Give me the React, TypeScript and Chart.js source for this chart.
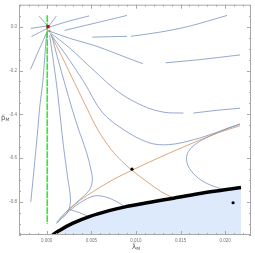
import { useEffect, useRef } from "react";
import { Chart, registerables } from "chart.js";
Chart.register(...registerables);

type P = [number, number];

const xTicks = [0, 0.005, 0.01, 0.015, 0.02];
const xTickLabels = ["0.000", "0.005", "0.010", "0.015", "0.020"];
const yTicks = [0, -0.2, -0.4, -0.6, -0.8];
const yTickLabels = ["0.0", "-0.2", "-0.4", "-0.6", "-0.8"];

// short streamlines near the origin
const t1: P[] = [[-0.00178, -0.008], [0, 0.003]];
const t2: P[] = [[-0.0017, -0.045], [0.00008, -0.008]];
const t3: P[] = [[-0.00181, -0.195], [-0.0008, -0.1], [0.00014, -0.015]];
const t4: P[] = [[-0.00086, 0.048], [0.00014, 0.003]];
const t5: P[] = [[0.00108, 0.048], [0.00026, 0.003]];

// upper fan
const u1: P[] = [[0.00022, -0.003], [0.00256, 0.026], [0.00478, 0.049]];
const u2: P[] = [[0.002, -0.017], [0.00533, 0.015], [0.009, 0.051]];
const u3a: P[] = [[0.00511, -0.048], [0.009, -0.044]];
const u3b: P[] = [[0.00944, -0.044], [0.01256, -0.026], [0.01589, 0.001], [0.02022, 0.051]];
const u4a: P[] = [[0.00033, -0.021], [0.00256, -0.053], [0.00556, -0.089], [0.009, -0.142], [0.01078, -0.169]];
const u4b: P[] = [[0.01333, -0.165], [0.017, -0.151], [0.02167, -0.129]];
const u5a: P[] = [[0.00033, -0.026], [0.00256, -0.097], [0.00533, -0.201], [0.00811, -0.3], [0.01089, -0.363], [0.01311, -0.39], [0.01533, -0.394]];
const u5b: P[] = [[0.01644, -0.394], [0.01922, -0.381], [0.02167, -0.372]];
const u6: P[] = [[0.00044, -0.035], [0.002, -0.12], [0.00422, -0.255], [0.00622, -0.39], [0.00867, -0.471], [0.01144, -0.529], [0.01367, -0.538], [0.01644, -0.516], [0.01922, -0.48], [0.02167, -0.444]];

// lower-left streamlines
const l1: P[] = [[0, -0.03], [-0.00022, -0.142], [-0.00044, -0.255], [-0.00078, -0.367], [-0.001, -0.471], [-0.00133, -0.614], [-0.00178, -0.799]];
const l2: P[] = [[0.00033, -0.039], [0.00078, -0.165], [0.00122, -0.3], [0.00156, -0.426], [0.00189, -0.547], [0.00233, -0.682], [0.00267, -0.794], [0.00233, -0.848], [0.00167, -0.875], [0.00111, -0.897]];
const l3: P[] = [[0.00056, -0.039], [0.00122, -0.142], [0.002, -0.255], [0.00289, -0.381], [0.00367, -0.48], [0.00444, -0.569], [0.005, -0.659], [0.00511, -0.704], [0.00478, -0.745], [0.00367, -0.79], [0.00256, -0.83], [0.00167, -0.866], [0.00111, -0.893]];
const c1: P[] = [[0.00144, -0.88], [0.00256, -0.839], [0.00389, -0.799], [0.00533, -0.772], [0.00656, -0.776], [0.00767, -0.794], [0.00878, -0.821]];
const c2: P[] = [[0.00256, -0.834], [0.00367, -0.848], [0.00478, -0.868]];
const cRight: P[] = [[0.02167, -0.444], [0.02011, -0.466], [0.01833, -0.498], [0.01678, -0.533], [0.01589, -0.569], [0.01567, -0.605], [0.016, -0.646], [0.017, -0.691], [0.01833, -0.722], [0.01978, -0.742]];

// separatrices (orange)
const orangeA: P[] = [[0.00044, -0.035], [0.00167, -0.133], [0.00311, -0.255], [0.00456, -0.376], [0.00567, -0.466], [0.00722, -0.56], [0.00844, -0.614], [0.00956, -0.655], [0.01144, -0.713], [0.01289, -0.754], [0.01422, -0.781]];
const orangeB: P[] = [[0.00211, -0.848], [0.00367, -0.794], [0.00533, -0.749], [0.00756, -0.695], [0.00956, -0.655], [0.01144, -0.619], [0.01367, -0.578], [0.017, -0.52], [0.01922, -0.484], [0.02167, -0.452]];

// vertical line (green)
const green: P[] = [[0.00006, 0.052], [0.00006, -0.9]];

// boundary (thick black)
const boundary: P[] = [[0.00044, -0.974], [0.00067, -0.951], [0.00144, -0.929], [0.00289, -0.897], [0.00478, -0.866], [0.007, -0.839], [0.00867, -0.823], [0.01144, -0.802], [0.01422, -0.782], [0.017, -0.762], [0.01978, -0.745], [0.02178, -0.733]];

// points
const redPoint: P[] = [[0.00015, 0.0]];
const grayPoint: P[] = [[0.0003, -0.02]];
const blackPoints: P[] = [[0.00956, -0.65], [0.02089, -0.803]];

const BLUE = "rgb(122,146,192)";
const ORANGE = "rgb(210,145,92)";

const toXY = (pts: P[]) => pts.map(([x, y]) => ({ x, y }));

const framePlugin = {
  id: "frameTicks",
  afterDatasetsDraw(chart: any) {
    const { ctx, chartArea: a, scales } = chart;
    const xs = scales.x;
    const ys = scales.y;
    ctx.save();
    ctx.strokeStyle = "#a8a8a8";
    ctx.lineWidth = 1;
    ctx.strokeRect(a.left + 0.5, a.top + 0.5, a.right - a.left - 1, a.bottom - a.top - 1);
    ctx.beginPath();
    for (let i = -3; i <= 22; i++) {
      const v = i / 1000;
      const px = Math.round(xs.getPixelForValue(v)) + 0.5;
      const len = i % 5 === 0 ? 4 : 2;
      ctx.moveTo(px, a.bottom);
      ctx.lineTo(px, a.bottom - len);
      ctx.moveTo(px, a.top);
      ctx.lineTo(px, a.top + len);
    }
    for (let i = -19; i <= 2; i++) {
      const v = i * 0.05;
      const py = Math.round(ys.getPixelForValue(v)) + 0.5;
      const len = i % 4 === 0 ? 4 : 2;
      ctx.moveTo(a.left, py);
      ctx.lineTo(a.left + len, py);
      ctx.moveTo(a.right, py);
      ctx.lineTo(a.right - len, py);
    }
    ctx.stroke();
    // axis titles
    ctx.fillStyle = "#555";
    ctx.textBaseline = "alphabetic";
    ctx.font = '7px "DejaVu Sans"';
    ctx.fillText("p\u0304", 1, 120);
    const pw = ctx.measureText("p").width;
    ctx.font = '4.5px "DejaVu Sans"';
    ctx.fillText("M", 1 + pw, 121);
    ctx.font = '7px "DejaVu Sans"';
    ctx.fillText("\u03bb\u0304", 132, 249);
    const lw = ctx.measureText("\u03bb").width;
    ctx.font = '4.5px "DejaVu Sans"';
    ctx.fillText("M", 132 + lw, 250);
    ctx.restore();
  },
};

export default function App() {
  const ref = useRef<HTMLCanvasElement | null>(null);
  useEffect(() => {
    if (!ref.current) return;
    const line = (pts: P[], color: string, width: number) => ({
      data: toXY(pts),
      showLine: true,
      borderColor: color,
      borderWidth: width,
      pointRadius: 0,
      tension: 0.35,
      fill: false,
    });
    const blues = [t1, t2, t3, t4, t5, u1, u2, u3a, u3b, u4a, u4b, u5a, u5b, u6, l1, l2, l3, c1, c2, cRight];
    const datasets: any[] = [
      { data: toXY(redPoint), pointStyle: "rect", pointRadius: 2.3, backgroundColor: "#e00000", borderWidth: 0, showLine: false },
      { data: toXY(blackPoints), pointRadius: 1.6, backgroundColor: "#000", borderWidth: 0, showLine: false },
      { data: toXY(grayPoint), pointStyle: "rect", pointRadius: 1.4, backgroundColor: "rgb(120,150,130)", borderWidth: 0, showLine: false },
      {
        data: toXY(boundary),
        showLine: true,
        borderColor: "#000",
        borderWidth: 3.5,
        pointRadius: 0,
        tension: 0.3,
        fill: "start",
        backgroundColor: "rgb(220,234,251)",
      },
      { ...line(green, "rgb(20,235,20)", 1.4), borderDash: [7, 1], tension: 0 },
      line(orangeA, ORANGE, 0.8),
      line(orangeB, ORANGE, 0.8),
      ...blues.map((b) => line(b, BLUE, 0.8)),
    ];
    const chart = new Chart(ref.current, {
      type: "scatter",
      data: { datasets },
      options: {
        animation: false,
        responsive: false,
        devicePixelRatio: 1,
        layout: { padding: { top: 1, right: 2, left: 0, bottom: 0 } },
        plugins: { legend: { display: false }, tooltip: { enabled: false } },
        scales: {
          x: {
            type: "linear",
            min: -0.0031,
            max: 0.0229,
            grid: { display: false, drawTicks: false },
            border: { display: false },
            afterFit: (s: any) => { s.height = 18; },
            afterBuildTicks: (s: any) => { s.ticks = xTicks.map((v) => ({ value: v })); },
            ticks: {
              padding: 3,
              color: "#777",
              font: { size: 4.5, family: '"Liberation Sans"' },
              maxRotation: 0,
              callback: (v: any) => {
                const i = xTicks.findIndex((t) => Math.abs(t - Number(v)) < 1e-9);
                return i >= 0 ? xTickLabels[i] : "";
              },
            },
          },
          y: {
            type: "linear",
            min: -0.95,
            max: 0.1,
            grid: { display: false, drawTicks: false },
            border: { display: false },
            afterFit: (s: any) => { s.width = 19; },
            afterBuildTicks: (s: any) => { s.ticks = yTicks.map((v) => ({ value: v })); },
            ticks: {
              padding: 2,
              color: "#777",
              font: { size: 4.5, family: '"Liberation Sans"' },
              callback: (v: any) => {
                const i = yTicks.findIndex((t) => Math.abs(t - Number(v)) < 1e-9);
                return i >= 0 ? yTickLabels[i] : "";
              },
            },
          },
        },
      },
      plugins: [framePlugin],
    });
    return () => chart.destroy();
  }, []);
  return (
    <div style={{ position: "fixed", left: 0, top: 0, width: 255, height: 253, background: "#fff" }}>
      <canvas ref={ref} width={255} height={253} style={{ width: 255, height: 253 }} />
    </div>
  );
}
